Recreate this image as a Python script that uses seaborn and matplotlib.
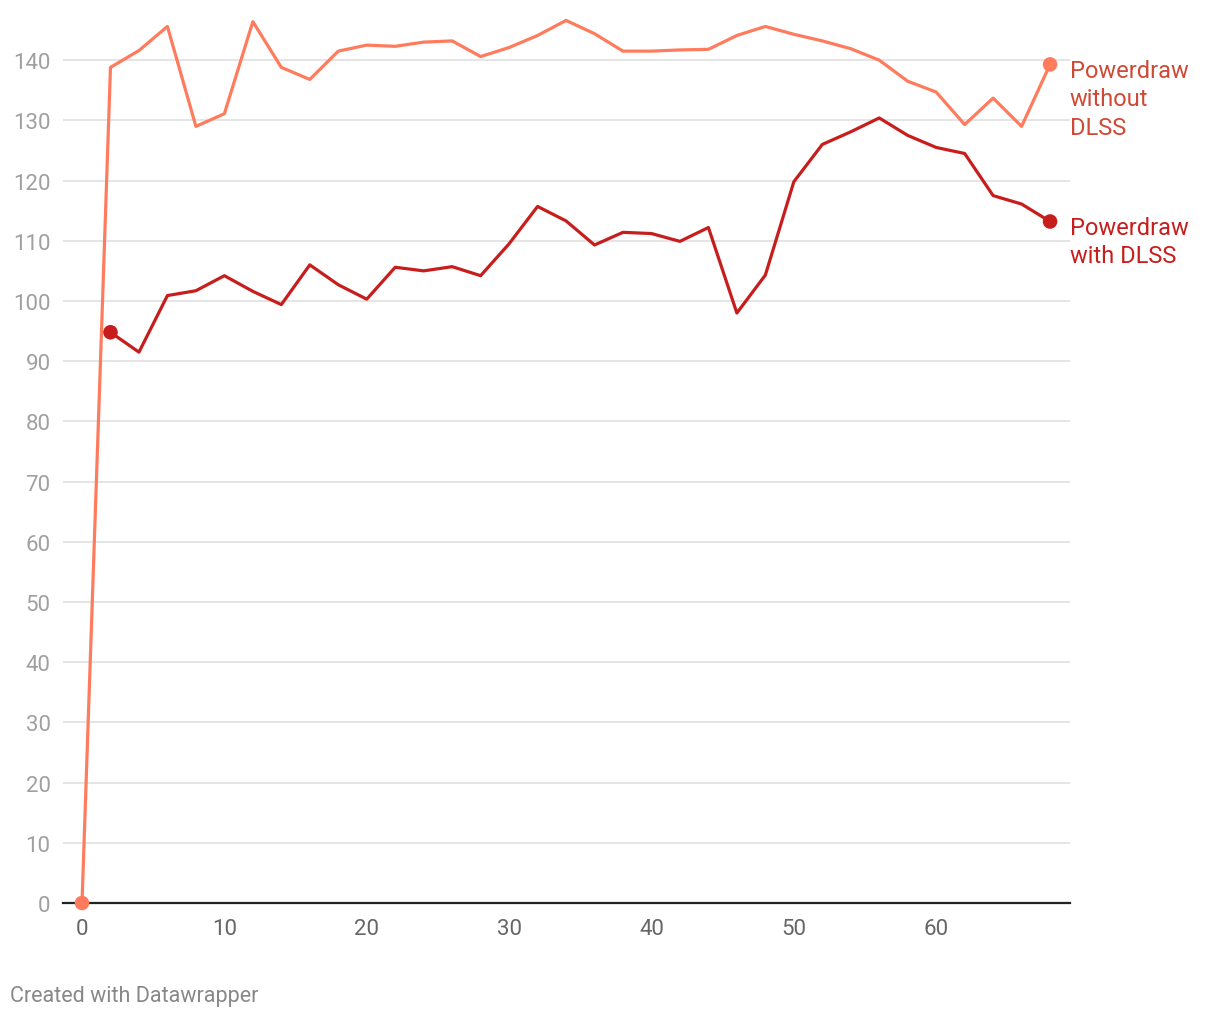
import matplotlib
matplotlib.use("Agg")
import matplotlib.pyplot as plt
import seaborn as sns
import pandas as pd
import numpy as np

# ---- data ----
x_without = list(range(0, 70, 2))
powerdraw_without = [0, 138.8, 141.6, 145.6, 129.0, 131.1, 146.4, 138.8, 136.8, 141.5,
                     142.5, 142.3, 143.0, 143.2, 140.6, 142.1, 144.1, 146.6, 144.4, 141.5,
                     141.5, 141.7, 141.8, 144.1, 145.6, 144.3, 143.2, 141.9, 140.0, 136.5,
                     134.7, 129.3, 133.7, 129.0, 139.3]
x_with = list(range(2, 70, 2))
powerdraw_with = [94.8, 91.5, 100.9, 101.7, 104.2, 101.6, 99.4, 106.0, 102.7, 100.3,
                  105.6, 105.0, 105.7, 104.2, 109.5, 115.7, 113.3, 109.3, 111.4, 111.2,
                  109.9, 112.2, 98.0, 104.3, 119.8, 126.0, 128.1, 130.4, 127.5, 125.5,
                  124.5, 117.5, 116.1, 113.2]
series_names = ["Powerdraw without DLSS", "Powerdraw with DLSS"]
label_texts = ["Powerdraw\nwithout\nDLSS", "Powerdraw\nwith DLSS"]
x_ticks = [0, 10, 20, 30, 40, 50, 60]
y_ticks = list(range(0, 150, 10))

line_colors = {"Powerdraw without DLSS": "#ff7b5e", "Powerdraw with DLSS": "#c71e1d"}
label_colors = {"Powerdraw without DLSS": "#cf4a36", "Powerdraw with DLSS": "#c71e1d"}

df = pd.concat([
    pd.DataFrame({"x": x_without, "y": powerdraw_without, "series": series_names[0]}),
    pd.DataFrame({"x": x_with, "y": powerdraw_with, "series": series_names[1]}),
], ignore_index=True)

sns.set_theme(style="white")
plt.rcParams['font.family'] = ['Roboto', 'DejaVu Sans']

W, H = 1220, 1020
fig = plt.figure(figsize=(W / 100, H / 100), dpi=100)
ax_left, ax_right, ax_bottom_px, ax_top_px = 63, 1070, 904, 13
ax = fig.add_axes([ax_left / W, (H - ax_bottom_px) / H,
                   (ax_right - ax_left) / W, (ax_bottom_px - ax_top_px) / H])

sns.lineplot(data=df, x="x", y="y", hue="series", palette=line_colors,
             linewidth=2.3, ax=ax, legend=False, zorder=3)

# endpoint dots
ends = []
for name in series_names:
    sub = df[df["series"] == name]
    ends.append(sub.iloc[[0]])
    ends.append(sub.iloc[[-1]])
ends = pd.concat(ends)
sns.scatterplot(data=ends, x="x", y="y", hue="series", palette=line_colors,
                s=110, edgecolor="none", ax=ax, legend=False, zorder=4, clip_on=False)

ax.set_xlim(-1.335, 69.4)
ax.set_ylim(0, 148)
ax.set_xticks(x_ticks)
ax.set_yticks(y_ticks)
ax.set_xlabel("")
ax.set_ylabel("")

ax.grid(axis="y", color="#e3e3e3", linewidth=1.3, zorder=0)
ax.grid(axis="x", visible=False)
for s in ["top", "right", "left"]:
    ax.spines[s].set_visible(False)
ax.spines["bottom"].set_color("#222222")
ax.spines["bottom"].set_linewidth(1.6)
ax.spines["bottom"].set_zorder(2)

ax.tick_params(axis="y", length=0, pad=9, labelsize=16, labelcolor="#a0a0a0")
ax.tick_params(axis="x", length=0, pad=11, labelsize=16, labelcolor="#666666")

# direct labels
for name, txt in zip(series_names, label_texts):
    sub = df[df["series"] == name]
    lx, ly = sub["x"].iloc[-1], sub["y"].iloc[-1]
    ax.annotate(txt, xy=(lx, ly), xytext=(14, 4), textcoords="offset points",
                ha="left", va="top", fontsize=17, color=label_colors[name],
                linespacing=1.3, annotation_clip=False)

fig.text(10 / W, 1 - 997 / H, "Created with Datawrapper", fontsize=15.5,
         color="#888888", ha="left", va="center")

fig.savefig("out.png", dpi=100)
